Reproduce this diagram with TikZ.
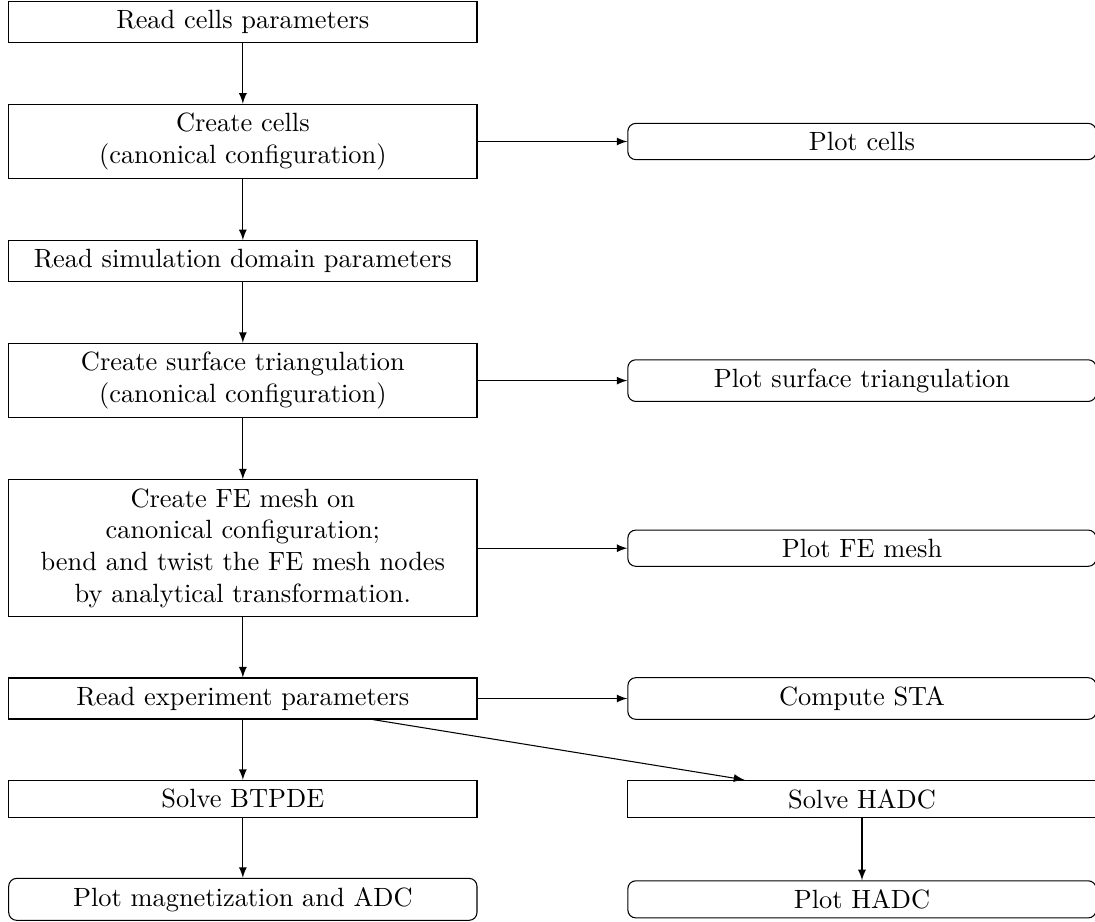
\documentclass[tikz,border=0pt]{standalone}
\usetikzlibrary{arrows}
\begin{document}
\begin{tikzpicture}[x=0.3788pt,y=-0.3788pt,
  stepbox/.style={draw,rectangle,text width=6cm,align=center,line width=0.4pt},
  plotbox/.style={draw,rectangle,rounded corners=3pt,text width=6cm,align=center,line width=0.4pt},
  arr/.style={-latex,line width=0.4pt}]
\useasboundingbox (0,0) rectangle (1095,922);
\node[stepbox] (b1) at (242.85,21.85) {Read cells parameters};
\node[stepbox] (b2) at (242.85,141.5) {Create cells\\(canonical configuration)};
\node[stepbox] (b3) at (242.85,261.2) {Read simulation domain parameters};
\node[stepbox] (b4) at (242.85,380.6) {Create surface triangulation\\(canonical configuration)};
\node[stepbox] (b5) at (242.85,548.2) {Create FE mesh on\\canonical configuration;\\bend and twist the FE mesh nodes\\by analytical transformation.};
\node[stepbox] (b6) at (242.85,698.5) {Read experiment parameters};
\node[stepbox] (b7) at (242.85,798.85) {Solve BTPDE};
\node[plotbox] (b8) at (242.85,899.35) {Plot magnetization and ADC};
\node[plotbox] (p1) at (862,141.5) {Plot cells};
\node[plotbox] (p2) at (862,380.6) {Plot surface triangulation};
\node[plotbox] (p3) at (862,548.2) {Plot FE mesh};
\node[plotbox] (p4) at (862,698.5) {Compute STA};
\node[stepbox] (h1) at (862,798.85) {Solve HADC};
\node[plotbox] (h2) at (862,899.35) {Plot HADC};
\draw[arr] (b1) -- (b2);
\draw[arr] (b2) -- (b3);
\draw[arr] (b3) -- (b4);
\draw[arr] (b4) -- (b5);
\draw[arr] (b5) -- (b6);
\draw[arr] (b6) -- (b7);
\draw[arr] (b7) -- (b8);
\draw[arr] (b2) -- (p1);
\draw[arr] (b4) -- (p2);
\draw[arr] (b5) -- (p3);
\draw[arr] (b6) -- (p4);
\draw[arr] (b6) -- (h1);
\draw[arr] (h1) -- (h2);
\end{tikzpicture}
\end{document}
